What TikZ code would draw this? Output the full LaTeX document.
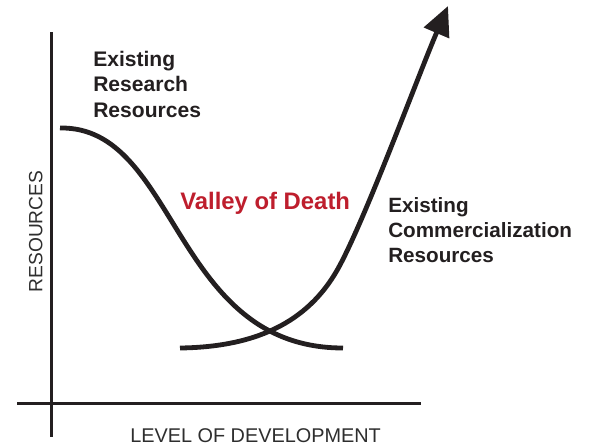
\documentclass[tikz,border=0pt]{standalone}
\usepackage{fontspec}
\setmainfont{Liberation Sans}
\usetikzlibrary{arrows.meta}
\definecolor{inkblack}{HTML}{231F20}
\definecolor{valleyred}{HTML}{BE1E2D}
\definecolor{axisgray}{HTML}{2E2E2E}
\tikzset{
  axisline/.style={draw=inkblack, line width=2pt},
  curveline/.style={draw=inkblack, line width=3.6pt},
  boldlabel/.style={text=inkblack, font=\bfseries, inner sep=0pt, align=left},
  axislabel/.style={text=axisgray, inner sep=0pt},
}
\begin{document}
\begin{tikzpicture}[x=0.75pt,y=-0.75pt]
\useasboundingbox (0,0) rectangle (593,446);
% axes
\coordinate (ytop) at (51.5,32);
\coordinate (ybot) at (51.5,437);
\coordinate (xleft) at (17,403.5);
\coordinate (xright) at (421,403.5);
\draw[axisline] (ytop) -- (ybot);
\draw[axisline] (xleft) -- (xright);
% research resources curve
\coordinate (rstart) at (60,128);
\coordinate (rend) at (343,348);
\draw[curveline] (rstart) .. controls (178,126) and (172,348) .. (rend);
% commercialization curve
\coordinate (cstart) at (180,348);
\coordinate (cmid) at (340,265);
\coordinate (ctip) at (448,6);
\draw[curveline, -{Triangle[length=22pt,width=20pt]}] (cstart) .. controls (262,347) and (312,318) .. (cmid) .. controls (368,212) and (418,76) .. (ctip);
% labels
\node[boldlabel, anchor=north west, font=\bfseries\fontsize{15.8}{19.2}\selectfont] (research) at (93,50.5) {Existing\\Research\\Resources};
\node[boldlabel, anchor=north west, font=\bfseries\fontsize{15.5}{18.75}\selectfont] (commercial) at (388,197) {Existing\\Commercialization\\Resources};
\node[anchor=base west, inner sep=0pt, text=valleyred, font=\bfseries\fontsize{17.9}{20}\selectfont] (valley) at (180,209) {Valley of Death};
\node[axislabel, rotate=90, anchor=base, font=\fontsize{14.4}{16}\selectfont] (ylabel) at (42.5,231.5) {RESOURCES};
\node[axislabel, anchor=base west, font=\fontsize{14.9}{16}\selectfont] (xlabel) at (130,442.5) {LEVEL OF DEVELOPMENT};
\end{tikzpicture}
\end{document}
